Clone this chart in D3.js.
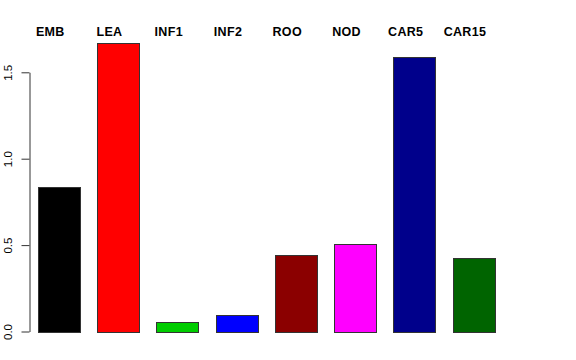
<!DOCTYPE html>
<html>
<head>
<meta charset="utf-8">
<script src="https://cdn.jsdelivr.net/npm/d3@7"></script>
<style>
  html, body { margin: 0; padding: 0; background: #fff; }
  svg { display: block; }
</style>
</head>
<body>
<svg id="chart" width="576" height="360"></svg>
<script>
const categories = ["EMB", "LEA", "INF1", "INF2", "ROO", "NOD", "CAR5", "CAR15"];
const values = [0.836, 1.670, 0.055, 0.097, 0.443, 0.505, 1.587, 0.427];
const colors = ["#000000", "#FF0000", "#00CD00", "#0000FF", "#8B0000", "#FF00FF", "#00008B", "#006400"];
const yTicks = [0, 0.5, 1.0, 1.5];
const yTickLabels = ["0.0", "0.5", "1.0", "1.5"];

const svg = d3.select("#chart");

const x = d3.scaleBand()
  .domain(categories)
  .range([38, 495])
  .paddingInner(0.4 / 1.4)
  .paddingOuter(0);

const y = d3.scaleLinear()
  .domain([0, 1.5])
  .range([331.5, 72.3]);

// bars
svg.append("g")
  .selectAll("rect")
  .data(categories)
  .join("rect")
  .attr("x", d => Math.round(x(d)) + 0.5)
  .attr("y", (d, i) => Math.round(y(values[i])) + 0.5)
  .attr("width", Math.round(x.bandwidth()))
  .attr("height", (d, i) => Math.round(y(0)) - Math.round(y(values[i])))
  .attr("fill", (d, i) => colors[i])
  .attr("stroke", "#333")
  .attr("stroke-width", 1);

// y axis
const axis = d3.axisLeft(y)
  .tickValues(yTicks)
  .tickFormat((d, i) => yTickLabels[i])
  .tickSize(8)
  .tickSizeOuter(0)
  .tickPadding(0);

const gy = svg.append("g")
  .attr("transform", "translate(29.5,0)")
  .call(axis);
gy.select(".domain").attr("stroke", "#333");
gy.selectAll(".tick line").attr("stroke", "#333");
gy.selectAll(".tick text")
  .attr("font-family", "Liberation Sans, Arial, sans-serif")
  .attr("font-size", "11.5px")
  .attr("fill", "#000")
  .attr("text-anchor", "middle")
  .attr("x", null)
  .attr("dy", null)
  .attr("transform", "translate(-17.5,0) rotate(-90)");

// category labels on top
svg.append("g")
  .selectAll("text")
  .data(categories)
  .join("text")
  .attr("x", d => x(d) + x.bandwidth() / 2 - 0.21 * x.bandwidth())
  .attr("y", 35.5)
  .attr("text-anchor", "middle")
  .attr("font-family", "Liberation Sans, Arial, sans-serif")
  .attr("font-weight", "bold")
  .attr("font-size", "12.5px")
  .attr("letter-spacing", "0.3px")
  .attr("fill", "#000")
  .text(d => d);
</script>
</body>
</html>
